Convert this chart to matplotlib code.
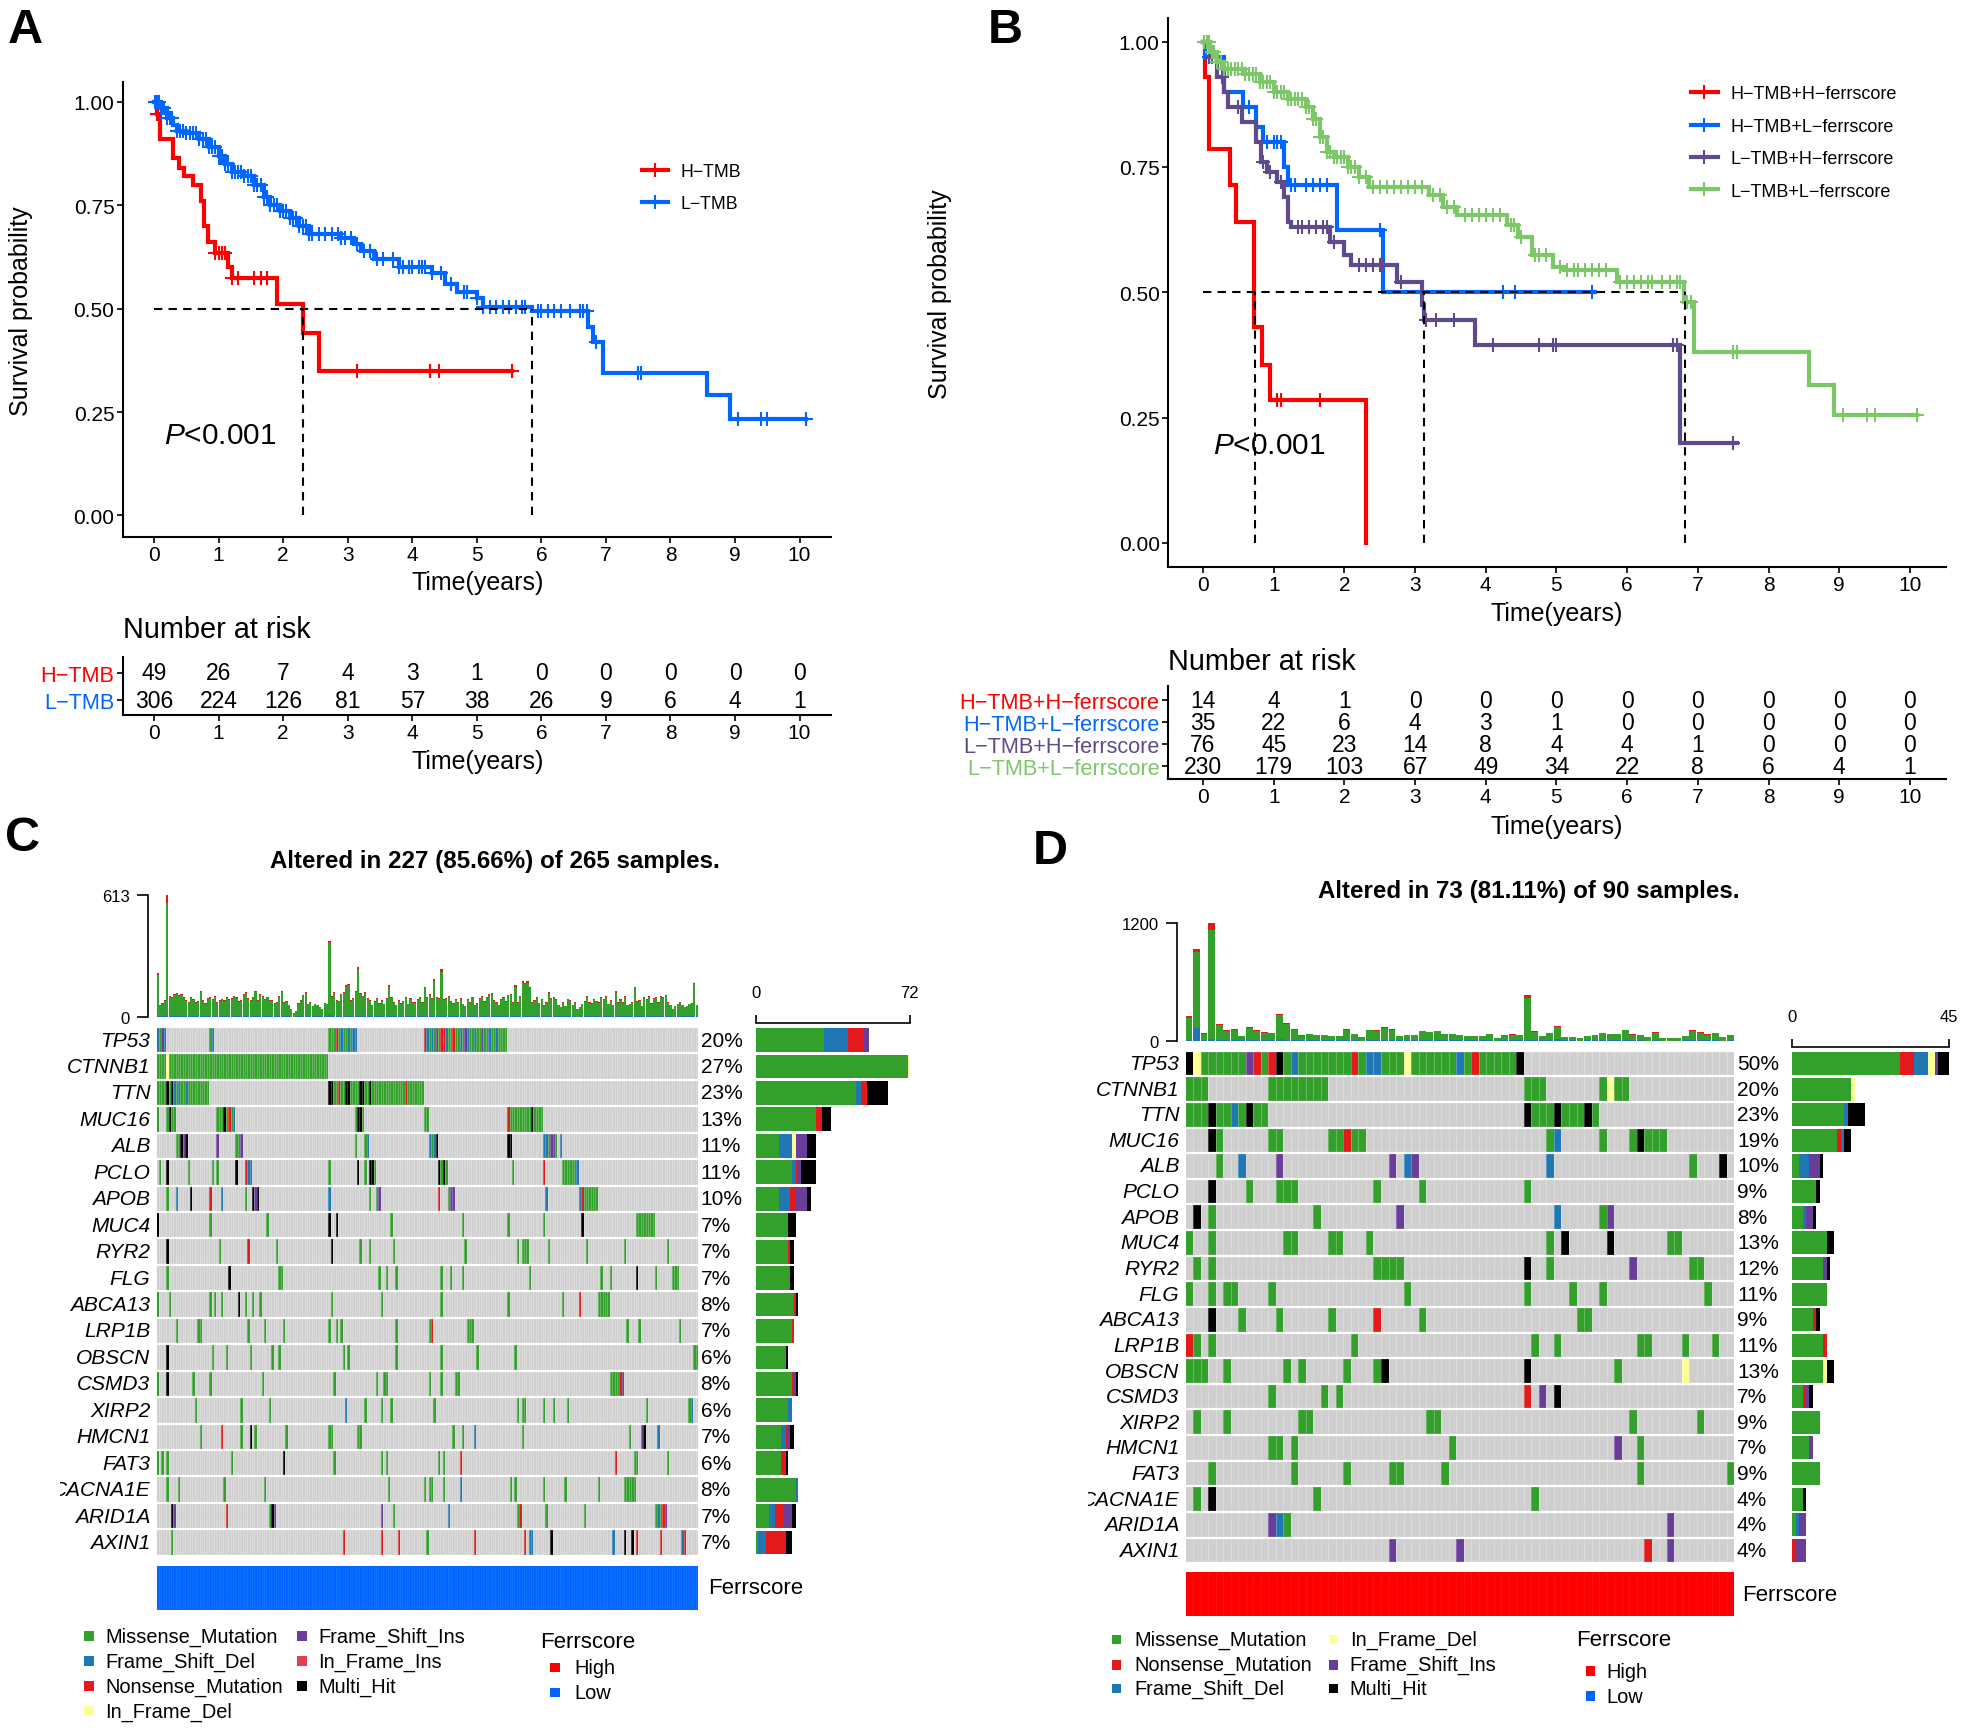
import numpy as np
import matplotlib
matplotlib.use("Agg")
import matplotlib.pyplot as plt
from matplotlib.colors import ListedColormap
from matplotlib.lines import Line2D
from matplotlib.patches import Rectangle
from matplotlib.transforms import Bbox

plt.rcParams['font.family'] = ['Liberation Sans', 'DejaVu Sans']
plt.rcParams['mathtext.fontset'] = 'custom'
plt.rcParams['mathtext.rm'] = 'Liberation Sans'
plt.rcParams['mathtext.it'] = 'Liberation Sans:italic'

RED = '#FF0000'
BLUE = '#0066FF'
PURPLE = '#5F4B8B'
GREEN = '#7CC868'

# ---- panel A, survival curves
A_H_T = [0, 0.05, 0.09, 0.30, 0.38, 0.47, 0.60, 0.72, 0.78, 0.83, 0.95, 1.15, 1.20, 1.90, 2.30, 2.55, 5.55]
A_H_S = [1.0, 0.97, 0.91, 0.865, 0.84, 0.82, 0.80, 0.76, 0.70, 0.66, 0.635, 0.60, 0.575, 0.51, 0.44, 0.35, 0.35]
A_H_CENS = [0.05, 0.95, 1.0, 1.05, 1.1, 1.2, 1.3, 1.55, 1.65, 1.75, 3.15, 4.28, 4.42, 5.55]
A_L_T = [0, 0.1, 0.2, 0.3, 0.35, 0.5, 0.7, 0.85, 1.0, 1.1, 1.2, 1.4, 1.55, 1.7, 1.8, 1.95, 2.1, 2.25, 2.4,
         2.9, 3.1, 3.2, 3.4, 3.8, 4.3, 4.5, 4.7, 5.0, 5.1, 5.85, 6.72, 6.8, 6.95, 8.57, 8.93, 10.1]
A_L_S = [1.0, 0.985, 0.96, 0.945, 0.93, 0.925, 0.91, 0.89, 0.87, 0.85, 0.83, 0.82, 0.80, 0.77, 0.75, 0.735, 0.72, 0.70, 0.68,
         0.67, 0.655, 0.64, 0.62, 0.60, 0.585, 0.56, 0.54, 0.525, 0.505, 0.495, 0.455, 0.42, 0.345, 0.29, 0.232, 0.232]
A_L_CENS = [0.02, 0.05, 0.08, 0.1, 0.13, 0.16, 0.2, 0.25, 0.28, 0.35, 0.4, 0.45, 0.5, 0.55, 0.6, 0.65, 0.7, 0.75, 0.8, 0.85,
            0.9, 0.95, 1.0, 1.02, 1.05, 1.1, 1.15, 1.2, 1.25, 1.3, 1.35, 1.4, 1.45, 1.5, 1.55, 1.6, 1.65, 1.7, 1.75, 1.8,
            1.85, 1.9, 1.95, 2.0, 2.05, 2.1, 2.15, 2.2, 2.25, 2.3, 2.35, 2.4, 2.45, 2.55, 2.65, 2.75, 2.85, 2.9, 2.95, 3.05,
            3.15, 3.25, 3.35, 3.45, 3.55, 3.7, 3.8, 3.85, 3.95, 4.0, 4.1, 4.15, 4.2, 4.3, 4.45, 4.6, 4.8, 4.85, 5.0, 5.1,
            5.2, 5.3, 5.4, 5.5, 5.6, 5.7, 5.75, 5.95, 6.0, 6.1, 6.2, 6.3, 6.45, 6.6, 6.65, 6.7, 6.85, 7.5, 7.55, 9.05,
            9.4, 9.5, 10.1]
A_MEDIANS = [2.3, 5.85]
A_RISK_H = [49, 26, 7, 4, 3, 1, 0, 0, 0, 0, 0]
A_RISK_L = [306, 224, 126, 81, 57, 38, 26, 9, 6, 4, 1]

# ---- panel B, survival curves
B_HH_T = [0, 0.03, 0.09, 0.38, 0.47, 0.72, 0.83, 0.95, 2.30]
B_HH_S = [1.0, 0.93, 0.785, 0.715, 0.64, 0.43, 0.355, 0.285, 0.0]
B_HH_CENS = [1.05, 1.1, 1.65]
B_HL_T = [0, 0.03, 0.30, 0.57, 0.75, 0.85, 1.15, 1.20, 1.90, 2.55, 5.55]
B_HL_S = [1.0, 0.97, 0.90, 0.87, 0.83, 0.80, 0.75, 0.715, 0.625, 0.50, 0.50]
B_HL_CENS = [0.08, 0.65, 0.9, 1.0, 1.05, 1.1, 1.25, 1.3, 1.45, 1.55, 1.65, 1.75, 2.5, 3.1, 4.25, 4.42, 5.5]
B_LH_T = [0, 0.1, 0.2, 0.3, 0.35, 0.55, 0.75, 0.82, 0.9, 1.05, 1.15, 1.2, 1.25, 1.8, 2.0, 2.1, 2.75, 3.1, 3.12, 3.85, 6.75, 7.55]
B_LH_S = [1.0, 0.97, 0.93, 0.90, 0.87, 0.84, 0.80, 0.76, 0.74, 0.72, 0.69, 0.64, 0.63, 0.60, 0.575, 0.555, 0.52, 0.475, 0.445, 0.395, 0.20, 0.20]
B_LH_CENS = [0.05, 0.12, 0.27, 0.5, 0.85, 0.95, 1.1, 1.35, 1.4, 1.5, 1.6, 1.7, 1.75, 1.85, 2.2, 2.3, 2.4, 2.5, 2.55, 2.8,
             3.15, 3.3, 3.55, 4.1, 4.75, 4.95, 5.0, 6.65, 6.7, 7.5]
B_LL_T = [0, 0.1, 0.2, 0.3, 0.6, 0.8, 1.0, 1.2, 1.45, 1.55, 1.65, 1.75, 1.85, 2.05, 2.2, 2.35, 3.2, 3.4, 3.6, 4.3, 4.45,
          4.65, 4.95, 5.1, 5.85, 6.8, 6.95, 8.57, 8.93, 10.1]
B_LL_S = [1.0, 0.98, 0.96, 0.945, 0.935, 0.92, 0.90, 0.885, 0.87, 0.845, 0.81, 0.78, 0.77, 0.75, 0.73, 0.71, 0.695, 0.67,
          0.655, 0.635, 0.61, 0.575, 0.55, 0.545, 0.52, 0.48, 0.38, 0.315, 0.255, 0.255]
B_LL_CENS = [0.02, 0.05, 0.08, 0.12, 0.16, 0.2, 0.25, 0.3, 0.35, 0.4, 0.45, 0.5, 0.55, 0.6, 0.65, 0.7, 0.75, 0.8, 0.85, 0.9,
             0.95, 1.0, 1.05, 1.1, 1.15, 1.2, 1.25, 1.3, 1.35, 1.4, 1.45, 1.5, 1.55, 1.6, 1.65, 1.7, 1.75, 1.8, 1.85, 1.9,
             1.95, 2.0, 2.05, 2.1, 2.15, 2.2, 2.3, 2.4, 2.5, 2.6, 2.7, 2.8, 2.9, 3.0, 3.1, 3.25, 3.35, 3.45, 3.55, 3.7,
             3.8, 3.9, 4.0, 4.1, 4.2, 4.35, 4.4, 4.5, 4.7, 4.75, 4.85, 5.05, 5.15, 5.25, 5.3, 5.4, 5.5, 5.6, 5.7, 5.9,
             6.0, 6.1, 6.2, 6.3, 6.35, 6.5, 6.6, 6.7, 6.75, 6.85, 6.9, 7.5, 7.55, 9.05, 9.4, 9.5, 10.1]
B_MEDIANS = [0.73, 3.12, 6.82]
B_RISK_HH = [14, 4, 1, 0, 0, 0, 0, 0, 0, 0, 0]
B_RISK_HL = [35, 22, 6, 4, 3, 1, 0, 0, 0, 0, 0]
B_RISK_LH = [76, 45, 23, 14, 8, 4, 4, 1, 0, 0, 0]
B_RISK_LL = [230, 179, 103, 67, 49, 34, 22, 8, 6, 4, 1]

# ---- oncoplot values
GENES = ['TP53', 'CTNNB1', 'TTN', 'MUC16', 'ALB', 'PCLO', 'APOB', 'MUC4', 'RYR2', 'FLG', 'ABCA13', 'LRP1B', 'OBSCN',
         'CSMD3', 'XIRP2', 'HMCN1', 'FAT3', 'CACNA1E', 'ARID1A', 'AXIN1']
PCT_C = [20, 27, 23, 13, 11, 11, 10, 7, 7, 7, 8, 7, 6, 8, 6, 7, 6, 8, 7, 7]
PCT_D = [50, 20, 23, 19, 10, 9, 8, 13, 12, 11, 9, 11, 13, 7, 9, 7, 9, 4, 4, 4]

# M missense, F frame shift del, N nonsense, D in frame del, I frame shift ins, J in frame ins, X multi hit
CODES = 'MFNDIJX'
CODE_COL = ['#33A02C', '#1F78B4', '#E31A1C', '#FFFF99', '#6A3D9A', '#E0404F', '#000000']

TP53_C = [(0, "FMIF"), (22, "MF"), (72, "MMMNMFMMFMFF"), (112, "NFMFMIMNNFMMNMMFMIFMMFMMIMMFMMFMMMM")]
CTNNB1_C = [(0, "MMMM"), (4, "D"), (5, "M" * 67)]
TTN_C = [(0, "MMMMXMXFMFMMFMMMMMMMMM"), (72, "XXMMNMMXXMMMMXXMMXMMMMMMMMMMMMMMNMMMMMMM")]
MUC16_C = [(0, "M"), (4, "MXMM"), (25, "MMMXMNMF"), (83, "MXXM"), (112, "MM"), (147, "NMMMMMMMMMXMMMM")]
ALB_C = [(8, "MMXIX"), (25, "I"), (33, "MMI"), (83, "M"), (87, "MF"), (114, "FMFX"), (147, "XX"), (162, "FFMIIM"), (169, "F")]
PCLO_C = [(1, "M"), (4, "X"), (13, "M"), (23, "M"), (25, "M"), (33, "X"), (37, "NFF"), (72, "M"), (84, "X"), (87, "M"),
          (89, "X"), (90, "XM"), (118, "XMXM"), (149, "M"), (162, "N"), (170, "MMMMMMF")]
APOB_C = [(4, "M"), (8, "F"), (14, "X"), (22, "N"), (27, "F"), (37, "M"), (40, "XIX"), (72, "F"), (89, "M"), (92, "MI"),
          (118, "N"), (122, "MII"), (163, "F"), (177, "FNMMMMMM")]
MUC4_C = [(0, "X"), (22, "M"), (46, "M"), (72, "X"), (75, "X"), (98, "M"), (128, "M"), (147, "M"), (162, "M"), (178, "X"),
          (201, "MMMMMMMM")]
RYR2_C = [(4, "X"), (26, "M"), (38, "N"), (50, "M"), (73, "X"), (85, "M"), (89, "M"), (99, "M"), (129, "M"), (151, "M"),
          (153, "MMM"), (164, "M"), (180, "M"), (196, "M"), (214, "M")]
FLG_C = [(4, "M"), (30, "X"), (51, "MM"), (93, "M"), (96, "M"), (100, "M"), (119, "M"), (123, "M"), (128, "M"), (156, "M"),
         (186, "M"), (190, "M"), (201, "X"), (209, "M"), (216, "MMM")]
ABCA13_C = [(0, "M"), (5, "M"), (22, "M"), (24, "M"), (27, "M"), (34, "X"), (37, "M"), (40, "M"), (43, "M"), (73, "M"),
            (94, "M"), (119, "M"), (147, "M"), (170, "M"), (177, "N"), (185, "MMMMM")]
LRP1B_C = [(8, "M"), (17, "MM"), (38, "M"), (45, "M"), (53, "M"), (72, "M"), (75, "M"), (77, "M"), (100, "M"), (114, "MN"),
           (130, "MMM"), (197, "M"), (202, "M"), (219, "M")]
OBSCN_C = [(4, "X"), (23, "M"), (29, "M"), (39, "M"), (48, "M"), (51, "M"), (78, "M"), (80, "M"), (100, "M"), (119, "M"),
           (134, "M"), (150, "M"), (225, "MM")]
CSMD3_C = [(0, "M"), (4, "X"), (15, "M"), (22, "M"), (44, "M"), (74, "M"), (92, "M"), (95, "MM"), (114, "M"), (119, "M"),
           (125, "MM"), (190, "MMMMNI")]
XIRP2_C = [(16, "M"), (35, "M"), (47, "M"), (79, "F"), (87, "M"), (94, "M"), (98, "M"), (116, "M"), (151, "M"), (153, "MM"),
           (162, "M"), (166, "M"), (172, "M"), (205, "M"), (223, "MF")]
HMCN1_C = [(18, "M"), (27, "N"), (35, "M"), (39, "X"), (41, "M"), (54, "M"), (72, "MM"), (84, "MM"), (124, "M"), (128, "M"),
           (133, "F"), (153, "M"), (198, "M"), (203, "IX"), (210, "F")]
FAT3_C = [(0, "M"), (2, "M"), (4, "M"), (31, "M"), (53, "X"), (74, "M"), (94, "M"), (96, "M"), (118, "M"), (120, "M"),
          (127, "N"), (192, "N"), (200, "MM"), (214, "M")]
CACNA1E_C = [(4, "M"), (9, "M"), (28, "M"), (45, "M"), (97, "M"), (112, "M"), (114, "MM"), (120, "M"), (127, "F"), (148, "M"),
             (150, "M"), (162, "M"), (171, "M"), (185, "M"), (196, "MMMMM")]
ARID1A_C = [(6, "XI"), (29, "N"), (47, "MXI"), (94, "I"), (99, "M"), (122, "F"), (151, "MN"), (163, "M"), (179, "M"), (209, "MFMNI")]
AXIN1_C = [(6, "M"), (78, "N"), (94, "N"), (101, "N"), (113, "M"), (133, "N"), (154, "N"), (156, "FF"), (165, "X"), (191, "F"),
           (196, "X"), (199, "X"), (201, "N"), (211, "N"), (220, "FN")]

TP53_D = [(0, "XDMMMMMMINMNXMFMMMMMMMNMFFMMMDMMMMMMFMNMMMMMX")]
CTNNB1_D = [(0, "MMM"), (11, "MMMMMMMM"), (45, "MMM"), (55, "MDMM")]
TTN_D = [(0, "MMMXMMFMXMM"), (45, "XMMMXMMMXM")]
MUC16_D = [(3, "XM"), (11, "MM"), (19, "MMNMM"), (48, "MF"), (55, "M"), (59, "MXMMM")]
ALB_D = [(4, "M"), (7, "F"), (12, "I"), (27, "I"), (29, "FI"), (48, "F"), (67, "M"), (71, "X")]
PCLO_D = [(3, "X"), (8, "M"), (12, "MMM"), (25, "M"), (31, "M"), (45, "M")]
APOB_D = [(1, "X"), (3, "M"), (17, "M"), (28, "I"), (49, "F"), (55, "MI")]
MUC4_D = [(0, "M"), (3, "M"), (13, "MM"), (19, "MM"), (24, "M"), (48, "M"), (50, "X"), (56, "X"), (64, "MM")]
RYR2_D = [(1, "M"), (3, "M"), (25, "MMMM"), (45, "X"), (48, "M"), (59, "I"), (67, "MM")]
FLG_D = [(0, "M"), (3, "M"), (5, "MM"), (11, "M"), (29, "M"), (45, "M"), (51, "M"), (55, "M"), (69, "M")]
ABCA13_D = [(3, "X"), (7, "M"), (12, "M"), (19, "M"), (25, "N"), (31, "M"), (52, "MM")]
LRP1B_D = [(0, "NM"), (3, "M"), (22, "M"), (46, "M"), (49, "M"), (60, "MM"), (66, "M"), (70, "M")]
OBSCN_D = [(0, "MMM"), (5, "M"), (13, "M"), (15, "M"), (21, "M"), (25, "MX"), (45, "X"), (57, "M"), (66, "D")]
CSMD3_D = [(11, "M"), (18, "M"), (20, "M"), (45, "N"), (47, "I"), (49, "X")]
XIRP2_D = [(1, "M"), (5, "M"), (15, "MM"), (32, "MM"), (59, "M"), (68, "M")]
HMCN1_D = [(11, "MM"), (14, "M"), (35, "M"), (57, "I"), (60, "M")]
FAT3_D = [(3, "M"), (14, "M"), (21, "M"), (27, "MM"), (34, "M"), (60, "M"), (72, "M")]
CACNA1E_D = [(1, "M"), (3, "X"), (17, "M"), (46, "M")]
ARID1A_D = [(11, "IFM"), (64, "I")]
AXIN1_D = [(27, "I"), (36, "I"), (61, "N"), (64, "I")]

ROWS_C = [TP53_C, CTNNB1_C, TTN_C, MUC16_C, ALB_C, PCLO_C, APOB_C, MUC4_C, RYR2_C, FLG_C, ABCA13_C, LRP1B_C, OBSCN_C,
          CSMD3_C, XIRP2_C, HMCN1_C, FAT3_C, CACNA1E_C, ARID1A_C, AXIN1_C]
ROWS_D = [TP53_D, CTNNB1_D, TTN_D, MUC16_D, ALB_D, PCLO_D, APOB_D, MUC4_D, RYR2_D, FLG_D, ABCA13_D, LRP1B_D, OBSCN_D,
          CSMD3_D, XIRP2_D, HMCN1_D, FAT3_D, CACNA1E_D, ARID1A_D, AXIN1_D]

# mutation load per sample, top bars
TOTAL_C = [220, 60, 70, 85, 613, 105, 100, 115, 120, 110,
           115, 100, 85, 75, 100, 90, 75, 80, 130, 85,
           70, 95, 100, 90, 105, 75, 85, 90, 85, 100,
           90, 95, 105, 100, 80, 85, 115, 125, 95, 85,
           100, 130, 85, 115, 105, 90, 100, 85, 85, 70,
           75, 105, 130, 75, 80, 60, 40, 20, 30, 70,
           85, 110, 125, 65, 75, 55, 65, 60, 50, 40,
           70, 65, 380, 105, 125, 85, 80, 115, 125, 160,
           167, 85, 95, 130, 253, 120, 105, 125, 95, 85,
           60, 80, 95, 70, 85, 65, 95, 158, 100, 75,
           60, 85, 70, 80, 100, 65, 95, 75, 75, 90,
           100, 75, 150, 100, 115, 95, 190, 100, 95, 240,
           90, 95, 105, 80, 70, 90, 75, 95, 65, 55,
           90, 75, 100, 60, 70, 95, 105, 80, 100, 115,
           120, 85, 75, 60, 90, 100, 80, 110, 115, 75,
           158, 75, 105, 178, 172, 178, 150, 75, 85, 100,
           70, 90, 60, 75, 125, 95, 100, 90, 60, 50,
           75, 55, 90, 85, 60, 75, 40, 50, 65, 80,
           105, 75, 70, 90, 80, 75, 100, 90, 105, 65,
           85, 60, 128, 75, 90, 75, 105, 60, 65, 75,
           150, 80, 85, 55, 100, 90, 105, 70, 95, 100,
           75, 105, 100, 110, 75, 60, 40, 55, 65, 75,
           60, 50, 55, 65, 70, 172, 60]
NONS_C = [8, 3, 3, 4, 38, 6, 4, 5, 6, 5,
          5, 4, 3, 3, 5, 4, 3, 3, 6, 4,
          3, 5, 4, 4, 5, 3, 3, 4, 3, 5,
          4, 4, 5, 5, 3, 3, 6, 5, 4, 3,
          5, 6, 4, 5, 5, 4, 4, 3, 4, 3,
          3, 5, 7, 3, 3, 3, 2, 1, 2, 3,
          4, 5, 6, 3, 3, 2, 3, 3, 2, 2,
          3, 3, 8, 5, 6, 4, 3, 5, 6, 9,
          9, 4, 4, 6, 12, 6, 5, 6, 4, 4,
          3, 3, 4, 3, 4, 3, 4, 7, 5, 3,
          3, 4, 3, 3, 5, 3, 4, 3, 3, 4,
          5, 3, 7, 5, 5, 4, 9, 4, 4, 14,
          4, 4, 5, 3, 3, 4, 3, 4, 3, 2,
          4, 3, 5, 3, 3, 4, 5, 3, 5, 5,
          6, 4, 3, 3, 4, 5, 3, 5, 5, 3,
          7, 3, 5, 9, 8, 9, 7, 3, 4, 5,
          3, 4, 3, 3, 6, 4, 5, 4, 3, 2,
          3, 2, 4, 4, 3, 3, 2, 2, 3, 3,
          5, 3, 3, 4, 3, 3, 5, 4, 5, 3,
          4, 3, 6, 3, 4, 3, 5, 3, 3, 3,
          7, 3, 4, 2, 5, 4, 5, 3, 4, 5,
          3, 5, 4, 5, 3, 3, 2, 2, 3, 3,
          3, 2, 2, 3, 3, 8, 3]
FSDEL_C = [5, 3, 4, 2, 9, 4, 3, 2, 4, 3,
           3, 2, 4, 3, 2, 3, 4, 2, 3, 2,
           3, 2, 4, 3, 2, 3, 3, 2, 4, 3,
           2, 3, 4, 2, 3, 3, 2, 4, 3, 2,
           3, 4, 2, 3, 2, 3, 4, 2, 3, 2,
           3, 2, 4, 3, 2, 3, 1, 1, 2, 2,
           3, 4, 2, 3, 2, 3, 2, 3, 2, 2,
           3, 2, 8, 3, 4, 2, 3, 4, 2, 5,
           4, 3, 2, 4, 6, 3, 2, 4, 3, 2,
           2, 3, 2, 3, 4, 2, 3, 4, 3, 2,
           3, 2, 3, 4, 2, 3, 2, 3, 4, 2,
           3, 2, 4, 3, 4, 2, 5, 3, 2, 5,
           3, 2, 4, 3, 2, 3, 2, 3, 2, 2,
           3, 2, 3, 2, 3, 4, 2, 3, 3, 2,
           4, 3, 2, 2, 3, 4, 2, 3, 2, 3,
           4, 2, 3, 5, 3, 4, 5, 2, 3, 2,
           3, 2, 2, 3, 4, 2, 3, 3, 2, 2,
           3, 2, 3, 2, 2, 3, 1, 2, 3, 2,
           3, 2, 3, 2, 3, 2, 3, 4, 2, 3,
           2, 2, 4, 3, 2, 3, 2, 2, 3, 2,
           4, 2, 3, 2, 3, 2, 4, 2, 3, 2,
           3, 2, 4, 3, 2, 2, 1, 2, 2, 3,
           2, 2, 2, 3, 2, 4, 2]
TOTAL_D = [253, 930, 74, 1200, 165, 105, 118, 50, 135, 105, 84, 78, 276, 175, 115, 54, 70, 57, 60, 44, 50, 118, 70, 34,
           110, 105, 135, 118, 50, 57, 57, 98, 88, 98, 70, 70, 57, 50, 47, 44, 67, 27, 57, 64, 60, 460, 94, 50, 78, 150,
           40, 40, 27, 50, 57, 78, 67, 70, 108, 64, 57, 37, 84, 24, 24, 24, 44, 108, 84, 64, 80, 34, 57]
NONS_D = [20, 30, 3, 70, 8, 5, 6, 3, 7, 5, 4, 4, 15, 10, 5, 3, 4, 3, 3, 2, 3, 6, 4, 2,
          5, 5, 6, 5, 3, 3, 3, 5, 4, 5, 4, 4, 3, 3, 2, 2, 4, 2, 3, 3, 3, 25, 5, 3, 4, 8,
          2, 2, 2, 3, 3, 4, 3, 4, 5, 3, 3, 2, 4, 1, 1, 1, 2, 6, 4, 3, 4, 2, 3]
FSDEL_D = [6, 130, 4, 14, 5, 3, 3, 2, 4, 3, 3, 2, 12, 5, 3, 2, 2, 2, 2, 2, 2, 4, 2, 1,
           4, 3, 4, 4, 2, 2, 2, 3, 3, 3, 2, 3, 2, 2, 2, 2, 2, 1, 2, 2, 2, 8, 3, 2, 4, 14,
           2, 2, 1, 2, 2, 3, 2, 2, 3, 2, 2, 1, 3, 1, 1, 1, 2, 3, 3, 2, 3, 1, 2]

# side bars, counts per gene
SIDE_C_M = [32, 71, 47, 28, 11, 17, 11, 15, 15, 16, 18, 17, 14, 17, 15, 12, 12, 19, 6, 1]
SIDE_C_F = [11, 0, 2, 0, 6, 2, 5, 0, 0, 0, 0, 0, 0, 0, 2, 2, 0, 1, 3, 4]
SIDE_C_N = [7, 0, 3, 3, 0, 1, 3, 0, 1, 0, 1, 1, 0, 1, 0, 1, 2, 0, 4, 9]
SIDE_C_D = [0, 1, 0, 0, 2, 0, 0, 0, 0, 0, 0, 0, 0, 0, 0, 0, 0, 0, 0, 0]
SIDE_C_I = [3, 0, 0, 0, 5, 1, 5, 0, 0, 0, 0, 0, 0, 1, 0, 1, 0, 0, 4, 0]
SIDE_C_X = [0, 0, 10, 4, 4, 7, 2, 4, 2, 2, 1, 0, 1, 1, 0, 2, 1, 0, 2, 3]
SIDE_D_M = [31, 17, 15, 13, 2, 7, 3, 10, 9, 10, 6, 9, 9, 3, 8, 5, 8, 3, 1, 0]
SIDE_D_N = [4, 0, 0, 1, 0, 0, 0, 0, 0, 0, 1, 1, 0, 1, 0, 0, 0, 0, 0, 1]
SIDE_D_F = [4, 0, 1, 1, 3, 0, 1, 0, 0, 0, 0, 0, 0, 0, 0, 0, 0, 0, 1, 0]
SIDE_D_D = [2, 1, 0, 0, 0, 0, 0, 0, 0, 0, 0, 0, 1, 0, 0, 0, 0, 0, 0, 0]
SIDE_D_I = [1, 0, 0, 0, 3, 0, 2, 0, 1, 0, 0, 0, 0, 1, 0, 1, 0, 0, 2, 3]
SIDE_D_X = [3, 0, 5, 2, 1, 1, 1, 2, 1, 0, 1, 0, 2, 1, 0, 0, 0, 1, 0, 0]

LEGEND_C = [['Missense_Mutation', 'Frame_Shift_Del', 'Nonsense_Mutation', 'In_Frame_Del'],
            ['Frame_Shift_Ins', 'In_Frame_Ins', 'Multi_Hit']]
LEGEND_D = [['Missense_Mutation', 'Nonsense_Mutation', 'Frame_Shift_Del'],
            ['In_Frame_Del', 'Frame_Shift_Ins', 'Multi_Hit']]
NAME_COL = {'Missense_Mutation': '#33A02C', 'Frame_Shift_Del': '#1F78B4', 'Nonsense_Mutation': '#E31A1C',
            'In_Frame_Del': '#FFFF99', 'Frame_Shift_Ins': '#6A3D9A', 'In_Frame_Ins': '#E0404F', 'Multi_Hit': '#000000'}

# all layout below is in px of a 1568 wide version of the figure
W, H = 1568.0, 1381.0
fig = plt.figure(figsize=(19.65, 17.31), dpi=100)
page = fig.add_axes([0, 0, 1, 1], zorder=0)
page.set_xlim(0, W)
page.set_ylim(H, 0)
page.axis('off')


def box(l, t, r, b):
    return fig.add_axes([l / W, 1 - b / H, (r - l) / W, (b - t) / H], zorder=2)


def clean(ax):
    ax.spines['top'].set_visible(False)
    ax.spines['right'].set_visible(False)
    ax.spines['left'].set_linewidth(1.5)
    ax.spines['bottom'].set_linewidth(1.5)
    ax.tick_params(width=1.2, length=4, pad=2, labelsize=15)


def km(pos, curves, medians, xlim, ylim, legend_pos, legend_size, legend_gap):
    ax = box(*pos)
    ax.patch.set_alpha(0)
    clean(ax)
    for t, s, cens, col, lab in curves:
        ax.step(t, s, where='post', color=col, lw=3.0, solid_joinstyle='miter')
        idx = np.searchsorted(t, cens, side='right') - 1
        ax.plot(cens, np.array(s)[idx], ls='', marker='+', ms=10, mew=1.5, color=col)
    ax.plot([0, max(medians)], [0.5, 0.5], color='k', ls='--', lw=1.5, dashes=(4, 3))
    for m in medians:
        ax.plot([m, m], [0, 0.5], color='k', lw=1.5, dashes=(4, 3))
    ax.set_xlim(*xlim)
    ax.set_ylim(*ylim)
    ax.set_xticks(range(11))
    ax.set_yticks([0, 0.25, 0.5, 0.75, 1])
    ax.set_yticklabels(['0.00', '0.25', '0.50', '0.75', '1.00'])
    handles = [Line2D([], [], color=c[3], lw=3.0, marker='+', ms=10, mew=1.5) for c in curves]
    ax.legend(handles, [c[4] for c in curves], frameon=False, loc='upper left', fontsize=legend_size,
              bbox_to_anchor=legend_pos, bbox_transform=page.transData, borderpad=0, borderaxespad=0,
              handlelength=1.5, handletextpad=0.7, labelspacing=legend_gap)
    return ax


def risk(pos, rows, names, cols, xlim, ylim, size):
    ax = box(*pos)
    ax.patch.set_alpha(0)
    clean(ax)
    n = len(rows)
    for i, vals in enumerate(rows):
        for t, v in enumerate(vals):
            ax.text(t, n - 1 - i, str(v), ha='center', va='center', fontsize=16.5)
    ax.set_xlim(*xlim)
    ax.set_ylim(*ylim)
    ax.set_xticks(range(11))
    ax.set_yticks(range(n - 1, -1, -1))
    ax.set_yticklabels(names, fontsize=size)
    for lab, c in zip(ax.get_yticklabels(), cols):
        lab.set_color(c)
    return ax


def matrix_from(rows, ncol):
    mat = np.zeros((len(rows), ncol), dtype=int)
    for r, entries in enumerate(rows):
        for start, codes in entries:
            for k, ch in enumerate(codes):
                mat[r, start + k] = CODES.index(ch) + 1
    return mat


def onco(grid, top, side, strip, rows, pcts, total, nons, fsdel, ymax, xmax, side_lists, side_cols,
         clip_left, ferr_col, ferr_x):
    ncol = len(total)
    nrow = len(rows)
    # main matrix
    ax = box(*grid)
    cmap = ListedColormap(['#CFCFCF'] + CODE_COL)
    ax.pcolormesh(matrix_from(rows, ncol), cmap=cmap, vmin=0, vmax=7)
    ax.vlines(range(1, ncol), 0, nrow, color='white', lw=0.4, alpha=0.45)
    ax.hlines(range(0, nrow + 1), 0, ncol, color='white', lw=1.6)
    ax.set_xlim(0, ncol)
    ax.set_ylim(nrow, 0)
    ax.axis('off')
    clip = Bbox([[clip_left / W * fig.bbox.width, 0], [fig.bbox.width, fig.bbox.height]])
    row_h = (grid[3] - grid[1]) / nrow
    for i, g in enumerate(GENES):
        y = grid[1] + (i + 0.5) * row_h
        t = page.text(grid[0] - 5, y, g, style='italic', ha='right', va='center', fontsize=15, clip_on=True)
        t.set_clip_box(clip)
        page.text(grid[2] + 2, y, '%d%%' % pcts[i], ha='left', va='center', fontsize=15)
    # top bars
    ax = box(*top)
    x = np.arange(ncol)
    total = np.array(total)
    nons = np.array(nons)
    fsdel = np.array(fsdel)
    ax.bar(x, fsdel, width=0.92, align='edge', color='#1F78B4')
    ax.bar(x, total - nons - fsdel, bottom=fsdel, width=0.92, align='edge', color='#33A02C')
    ax.bar(x, nons, bottom=total - nons, width=0.92, align='edge', color='#E31A1C')
    ax.set_xlim(0, ncol)
    ax.set_ylim(0, ymax)
    for s in ['top', 'right', 'bottom']:
        ax.spines[s].set_visible(False)
    ax.spines['left'].set_position(('outward', 6.3))
    ax.spines['left'].set_linewidth(1.2)
    ax.set_xticks([])
    ax.set_yticks([0, ymax])
    ax.tick_params(axis='y', length=8, width=1.2, pad=5, labelsize=12)
    # side bars
    ax = box(*side)
    left = np.zeros(nrow)
    y = np.arange(nrow) + 0.5
    for vals, c in zip(side_lists, side_cols):
        ax.barh(y, vals, left=left, height=0.9, color=c)
        left = left + np.array(vals)
    ax.set_xlim(0, xmax)
    ax.set_ylim(nrow, 0)
    for s in ['left', 'right', 'bottom']:
        ax.spines[s].set_visible(False)
    ax.spines['top'].set_position(('outward', 2.5))
    ax.spines['top'].set_linewidth(1.2)
    ax.xaxis.tick_top()
    ax.set_xticks([0, xmax])
    ax.set_yticks([])
    ax.tick_params(axis='x', length=6, width=1.2, labelsize=12, pad=10.5)
    # ferrscore strip
    ax = box(*strip)
    ax.pcolormesh(np.zeros((1, ncol)), cmap=ListedColormap([ferr_col]))
    ax.vlines(range(1, ncol), 0, 1, color='white', lw=0.4, alpha=0.12)
    ax.set_xlim(0, ncol)
    ax.set_ylim(0, 1)
    ax.axis('off')
    page.text(ferr_x, (strip[1] + strip[3]) / 2, 'Ferrscore', fontsize=16, va='center', ha='left')


def sq(x, y, col, s=7.5):
    page.add_patch(Rectangle((x - s / 2, y - s / 2), s, s, color=col, lw=0))


def legend_block(cols, sq_x, text_x, ys, title_x, title_y, sq2, text2, high_y, low_y):
    for names, sx, tx in zip(cols, sq_x, text_x):
        for nm, y in zip(names, ys):
            sq(sx, y, NAME_COL[nm])
            page.text(tx, y, nm, fontsize=14.4, va='center', ha='left')
    page.text(title_x, title_y, 'Ferrscore', fontsize=16, va='center', ha='left')
    sq(sq2, high_y, RED)
    page.text(text2, high_y, 'High', fontsize=14.4, va='center', ha='left')
    sq(sq2, low_y, BLUE)
    page.text(text2, low_y, 'Low', fontsize=14.4, va='center', ha='left')


# ---- A
a_curves = [(A_H_T, A_H_S, A_H_CENS, RED, 'H\u2212TMB'), (A_L_T, A_L_S, A_L_CENS, BLUE, 'L\u2212TMB')]
km((98, 66, 663, 429), a_curves, A_MEDIANS, (-0.485, 10.485), (-0.0515, 1.0485), (512, 131), 12.7, 0.83)
page.text(381, 465, 'Time(years)', fontsize=18, ha='center', va='center')
page.text(17, 248, 'Survival probability', fontsize=18, rotation=90, ha='center', va='center')
page.text(131, 348, r'$\mathit{P}$<0.001', fontsize=21.5, ha='left', va='center')
risk((98, 525, 663, 571), [A_RISK_H, A_RISK_L], ['H\u2212TMB', 'L\u2212TMB'], [RED, BLUE],
     (-0.485, 10.485), (-0.53, 1.56), 15.6)
page.text(98, 503, 'Number at risk', fontsize=20.8, ha='left', va='center')
page.text(381, 608, 'Time(years)', fontsize=18, ha='center', va='center')

# ---- B
b_names = ['H\u2212TMB+H\u2212ferrscore', 'H\u2212TMB+L\u2212ferrscore', 'L\u2212TMB+H\u2212ferrscore', 'L\u2212TMB+L\u2212ferrscore']
b_curves = [(B_HH_T, B_HH_S, B_HH_CENS, RED, b_names[0]), (B_HL_T, B_HL_S, B_HL_CENS, BLUE, b_names[1]),
            (B_LH_T, B_LH_S, B_LH_CENS, PURPLE, b_names[2]), (B_LL_T, B_LL_S, B_LL_CENS, GREEN, b_names[3])]
km((932, 15, 1553, 453), b_curves, B_MEDIANS, (-0.496, 10.514), (-0.0475, 1.0475), (1349, 69), 13, 0.85)
page.text(1242, 490, 'Time(years)', fontsize=18, ha='center', va='center')
page.text(750, 235, 'Survival probability', fontsize=18, rotation=90, ha='center', va='center')
page.text(968, 356, r'$\mathit{P}$<0.001', fontsize=21.5, ha='left', va='center')
risk((932, 548, 1553, 622), [B_RISK_HH, B_RISK_HL, B_RISK_LH, B_RISK_LL], b_names, [RED, BLUE, PURPLE, GREEN],
     (-0.496, 10.514), (-0.56, 3.66), 15.6)
page.text(932, 528, 'Number at risk', fontsize=20.8, ha='left', va='center')
page.text(1242, 660, 'Time(years)', fontsize=18, ha='center', va='center')

# ---- C
page.text(395, 687, 'Altered in 227 (85.66%) of 265 samples.', fontsize=17.4, fontweight='bold', ha='center', va='center')
onco((125, 820, 557, 1242), (125, 715, 557, 812), (603, 820, 726, 1242), (125, 1250, 557, 1285),
     ROWS_C, PCT_C, TOTAL_C, NONS_C, FSDEL_C, 613, 72,
     [SIDE_C_M, SIDE_C_F, SIDE_C_N, SIDE_C_D, SIDE_C_I, SIDE_C_X],
     ['#33A02C', '#1F78B4', '#E31A1C', '#FFFF99', '#6A3D9A', '#000000'], 48, BLUE, 565)
legend_block(LEGEND_C, [71, 241], [84, 254], [1306, 1326, 1346, 1366], 431, 1310, 443, 458, 1331, 1351)

# ---- D
page.text(1220, 711, 'Altered in 73 (81.11%) of 90 samples.', fontsize=17.4, fontweight='bold', ha='center', va='center')
onco((946, 839, 1384, 1248), (946, 737, 1384, 831), (1430, 839, 1555, 1248), (946, 1255, 1384, 1290),
     ROWS_D, PCT_D, TOTAL_D, NONS_D, FSDEL_D, 1200, 45,
     [SIDE_D_M, SIDE_D_N, SIDE_D_F, SIDE_D_D, SIDE_D_I, SIDE_D_X],
     ['#33A02C', '#E31A1C', '#1F78B4', '#FFFF99', '#6A3D9A', '#000000'], 868, RED, 1390)
legend_block(LEGEND_D, [891, 1064], [905, 1077], [1309, 1329, 1348], 1258, 1309, 1269, 1282, 1334, 1354)

# panel letters
for lab, x, y in [('A', 20, 24), ('B', 802, 24), ('C', 18, 669), ('D', 838, 679)]:
    page.text(x, y, lab, fontsize=35, fontweight='bold', ha='center', va='center')

fig.savefig('out.png', dpi=100)
